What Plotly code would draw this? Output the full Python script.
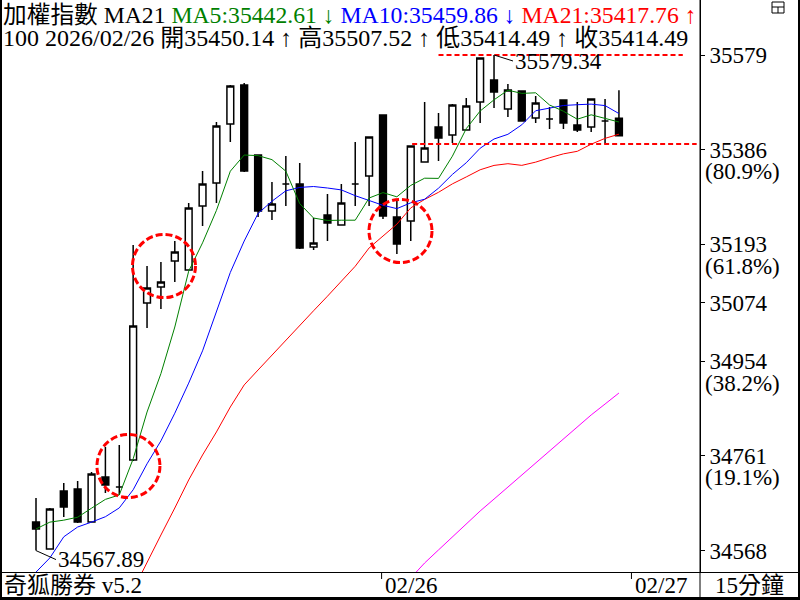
import plotly.graph_objects as go

# 15分鐘 K 線 (由左至右)
opens = [34626.3, 34571.2, 34689.5, 34693.6, 34626.3, 34718.1, 34697.7, 34752.8, 35073.2, 35105.8,
         35158.9, 35140.5, 35271.2, 35318.1, 35438.5, 35518.1, 35375.2, 35260.9, 35316.0, 35316.0,
         35187.5, 35252.8, 35232.4, 35316.0, 35332.4, 35456.9, 35248.7, 35240.5, 35361.0, 35432.4,
         35416.1, 35426.3, 35483.4, 35528.3, 35469.1, 35505.9, 35450.8, 35448.7, 35487.5, 35436.5,
         35432.4, 35444.6, 35450.14]
highs = [34675.2, 34654.9, 34705.9, 34709.9, 34728.3, 34779.3, 34783.4, 35191.6, 35148.7, 35156.9,
         35199.7, 35277.3, 35342.6, 35442.6, 35518.1, 35522.2, 35375.2, 35320.1, 35373.2, 35358.9,
         35246.7, 35295.7, 35316.0, 35401.8, 35412.0, 35456.9, 35285.4, 35393.6, 35483.4, 35461.0,
         35479.3, 35491.6, 35573.2, 35579.34, 35520.2, 35505.9, 35495.7, 35473.2, 35487.5, 35483.4,
         35489.5, 35489.5, 35507.52]
lows = [34567.89, 34570.0, 34636.5, 34624.2, 34626.3, 34685.4, 34681.3, 34750.8, 35022.2, 35060.9,
        35116.0, 35140.5, 35230.3, 35277.3, 35401.8, 35340.6, 35248.7, 35242.6, 35271.2, 35183.4,
        35181.4, 35199.7, 35232.4, 35271.2, 35271.2, 35244.6, 35173.2, 35199.7, 35361.0, 35363.0,
        35399.7, 35426.3, 35440.6, 35471.2, 35452.8, 35444.6, 35440.6, 35428.3, 35428.3, 35422.2,
        35422.2, 35397.7, 35414.49]
closes = [34612.0, 34652.8, 34656.9, 34626.3, 34724.2, 34701.8, 34697.7, 35026.2, 35103.8, 35116.0,
          35177.3, 35267.1, 35316.0, 35434.4, 35516.1, 35342.6, 35260.9, 35275.2, 35316.0, 35185.4,
          35195.7, 35236.4, 35277.3, 35316.0, 35412.0, 35250.7, 35193.6, 35393.6, 35389.5, 35409.9,
          35477.3, 35475.3, 35573.2, 35503.8, 35507.9, 35444.6, 35481.3, 35448.7, 35440.6, 35426.3,
          35489.5, 35444.6, 35414.49]

ma5 = [34612, 34626, 34630, 34636, 34654.4, 34672.4, 34681.4, 34755.2, 34850.7, 34929.1,
       35024.2, 35138.1, 35196.0, 35262.2, 35342.2, 35375.2, 35374.0, 35365.8, 35342.2, 35276.0,
       35246.6, 35241.7, 35242.2, 35242.2, 35287.5, 35298.5, 35289.9, 35313.2, 35327.9, 35327.5,
       35372.8, 35429.1, 35465.0, 35487.9, 35507.5, 35501.0, 35502.2, 35477.3, 35464.6, 35448.3,
       35457.3, 35449.9, 35442.61]
ma10 = [34524, 34553, 34596, 34616, 34626, 34637, 34655, 34692, 34745, 34791.8,
        34848.3, 34909.7, 34975.6, 35056.5, 35135.6, 35199.7, 35256.0, 35280.9, 35302.2, 35309.1,
        35310.9, 35307.9, 35304.0, 35292.2, 35281.8, 35272.6, 35265.8, 35277.7, 35285.0, 35307.5,
        35335.6, 35359.5, 35389.1, 35407.9, 35417.5, 35436.9, 35465.6, 35471.2, 35476.3, 35477.9,
        35479.1, 35476.1, 35459.86]
ma21 = [None] * 7 + [34487.5, 34544.7, 34599.7,
        34654.8, 34712, 34763, 34810, 34861, 34906, 34936.5, 34967, 34998, 35028,
        35057.4, 35087.1, 35116.8, 35148.2, 35185.6, 35210.7, 35234.1, 35267.3, 35284.6, 35299.1,
        35316.3, 35330.5, 35345.1, 35354.0, 35357.5, 35354.1, 35360.7, 35369.7, 35377.6, 35382.8,
        35397.3, 35409.2, 35417.76]
ma100 = [None] * 27 + [34512, 34542.6, 34569.2,
         34595.7, 34622, 34648.7, 34673, 34697.7, 34722, 34746.7, 34771, 34795.7, 34820,
         34844.7, 34867, 34889.5]

# 黃金分割價位
fib_levels = [34568, 34761, 34954, 35074, 35193, 35386, 35579]
fib_pct = ["", "(19.1%)", "(38.2%)", "", "(61.8%)", "(80.9%)", ""]

date_ticks = [25, 43]
date_labels = ["02/26", "02/27"]
support_price = 35397.7

x = list(range(len(closes)))
FONT = "Liberation Serif, Noto Sans CJK TC, serif"

# 版面: 繪圖區 x 2..700, y 0..572 (像素)
def px(v):
    return (v - 2) / 698

def py(v):
    return (572 - v) / 572

fig = go.Figure()
fig.add_trace(go.Candlestick(
    x=x, open=opens, high=highs, low=lows, close=closes,
    increasing=dict(fillcolor="white", line=dict(color="black", width=1.5)),
    decreasing=dict(fillcolor="black", line=dict(color="black", width=1.5)),
    whiskerwidth=0, hoverinfo="skip", showlegend=False))
for vals, col in [(ma100, "#ff00ff"), (ma21, "#ff0000"), (ma10, "#0000ff"), (ma5, "#008000")]:
    fig.add_trace(go.Scatter(x=x, y=vals, mode="lines", line=dict(color=col, width=1),
                             hoverinfo="skip", showlegend=False))

shapes = []
# 紅色虛線
hi_idx = highs.index(max(highs))
shapes.append(dict(type="line", xref="x", yref="y", x0=29, x1=46.6, y0=max(highs), y1=max(highs),
                   line=dict(color="red", width=2, dash="5px,3px")))
shapes.append(dict(type="line", xref="x", yref="y", x0=27.1, x1=47.6, y0=support_price, y1=support_price,
                   line=dict(color="red", width=2, dash="5px,3px")))
# 紅色虛線圓圈
for cx, cy in [(6.66, 34740.6), (9.22, 35148.7), (26.26, 35220.2)]:
    shapes.append(dict(type="circle", xref="x", yref="y", x0=cx - 2.27, x1=cx + 2.27,
                       y0=cy - 64.5, y1=cy + 64.5,
                       line=dict(color="red", width=3, dash="7px,3px")))
# 外框
blk = dict(color="black", width=1)
shapes += [
    dict(type="line", xref="paper", yref="paper", x0=px(1), x1=px(1), y0=py(0), y1=py(600),
         line=dict(color="black", width=2)),
    dict(type="line", xref="paper", yref="paper", x0=px(799), x1=px(799), y0=py(0), y1=py(600),
         line=dict(color="black", width=2)),
    dict(type="line", xref="paper", yref="paper", x0=px(0), x1=px(800), y0=py(598.5), y1=py(598.5),
         line=dict(color="black", width=3)),
    dict(type="line", xref="paper", yref="paper", x0=px(0), x1=px(800), y0=py(572.5), y1=py(572.5), line=blk),
    dict(type="line", xref="paper", yref="paper", x0=px(700), x1=px(700), y0=py(0), y1=py(600), line=blk),
    dict(type="rect", xref="paper", yref="paper", x0=px(772), x1=px(784), y0=py(2), y1=py(13), line=blk),
    dict(type="line", xref="paper", yref="paper", x0=px(772), x1=px(784), y0=py(7), y1=py(7), line=blk),
    dict(type="line", xref="paper", yref="paper", x0=px(778), x1=px(778), y0=py(7), y1=py(13), line=blk),
]
for t in date_ticks:
    shapes.append(dict(type="line", xref="x", yref="paper", x0=t - 0.1, x1=t - 0.1,
                       y0=py(573), y1=py(579), line=blk))

ann = []
line1 = ('加權指數 MA21 '
         f'<span style="color:#008000">MA5:{ma5[-1]:.2f} ↓</span> '
         f'<span style="color:#0000ff">MA10:{ma10[-1]:.2f} ↓</span> '
         f'<span style="color:#ff0000">MA21:{ma21[-1]:.2f} ↑</span>')
line2 = (f'100 2026/02/26 開{opens[-1]:.2f} ↑ 高{highs[-1]:.2f} ↑ '
         f'低{lows[-1]:.2f} ↑ 收{closes[-1]:.2f}')
ann.append(dict(xref="paper", yref="paper", x=px(1), y=py(15), text=line1, showarrow=False,
                xanchor="left", yanchor="middle", font=dict(family=FONT, size=23.7, color="black")))
ann.append(dict(xref="paper", yref="paper", x=px(1), y=py(38), text=line2, showarrow=False,
                xanchor="left", yanchor="middle", font=dict(family=FONT, size=24, color="black")))
# 最高 / 最低 標記
ann.append(dict(x=hi_idx, y=max(highs), xref="x", yref="y", text=f"{max(highs):.2f}",
                showarrow=True, arrowhead=0, arrowwidth=1, arrowcolor="black", ax=19, ay=6,
                xanchor="left", yanchor="middle", font=dict(family=FONT, size=23, color="black")))
lo_idx = lows.index(min(lows))
ann.append(dict(x=lo_idx, y=min(lows), xref="x", yref="y", text=f"{min(lows):.2f}",
                showarrow=True, arrowhead=0, arrowwidth=1, arrowcolor="black", ax=20, ay=9,
                xanchor="left", yanchor="middle", font=dict(family=FONT, size=23, color="black")))
# 百分比
for lv, pc in zip(fib_levels, fib_pct):
    if pc:
        ann.append(dict(xref="paper", yref="y", x=px(703), y=lv, yshift=-22, text=pc, showarrow=False,
                        xanchor="left", yanchor="middle", font=dict(family=FONT, size=23, color="black")))
# 底列
ann.append(dict(xref="paper", yref="paper", x=px(2), y=py(585), text="奇狐勝券 v5.2", showarrow=False,
                xanchor="left", yanchor="middle", font=dict(family=FONT, size=23, color="black")))
for t, lab in zip(date_ticks, date_labels):
    ann.append(dict(xref="x", yref="paper", x=t, y=py(585), text=lab, showarrow=False,
                    xanchor="left", yanchor="middle", font=dict(family=FONT, size=23, color="black")))
ann.append(dict(xref="paper", yref="paper", x=px(749), y=py(585), text="15分鐘", showarrow=False,
                xanchor="center", yanchor="middle", font=dict(family=FONT, size=23, color="black")))

fig.update_layout(
    width=800, height=600,
    margin=dict(l=2, r=100, t=0, b=28, autoexpand=False),
    paper_bgcolor="white", plot_bgcolor="white",
    shapes=shapes, annotations=ann,
    xaxis=dict(range=[-2.45, 47.84], showgrid=False, zeroline=False, showticklabels=False,
               ticks="", rangeslider=dict(visible=False), fixedrange=True),
    yaxis=dict(range=[34524.2, 35691.6], side="right", showgrid=False, zeroline=False,
               tickvals=fib_levels, ticktext=[str(v) for v in fib_levels],
               ticks="outside", ticklen=4, tickwidth=1, tickcolor="black",
               showline=True, linecolor="black", linewidth=1,
               tickfont=dict(family=FONT, size=23, color="black"), automargin=False),
)

fig.write_html("out.html", config={"displayModeBar": False},
               post_script="document.body.style.margin='0';")
